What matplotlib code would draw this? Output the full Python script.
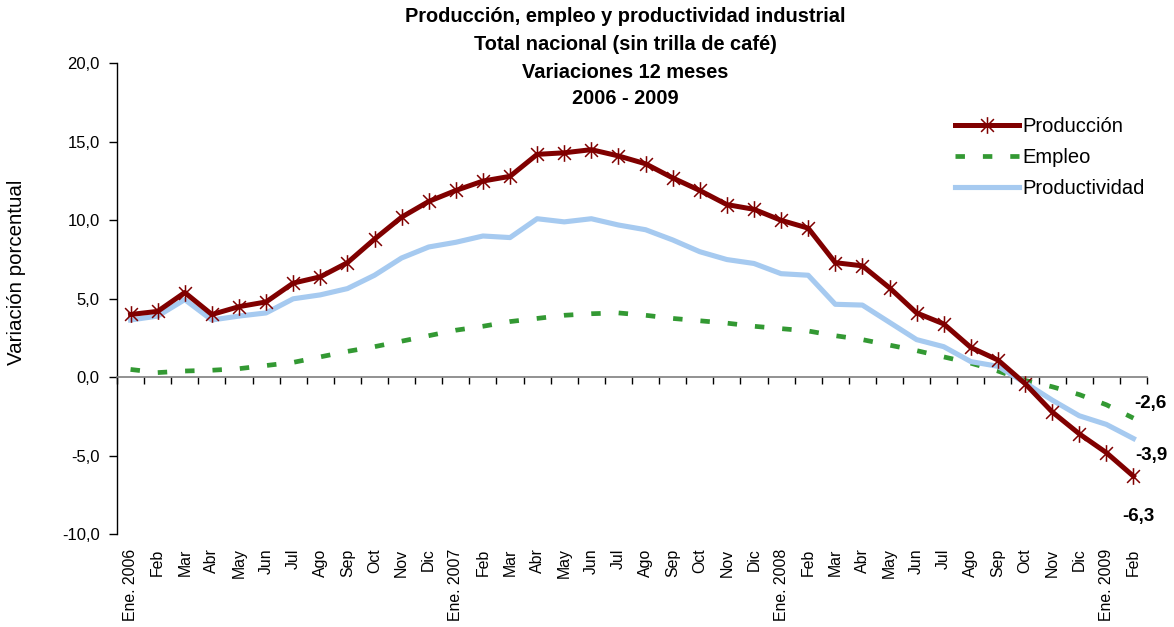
import numpy as np
import matplotlib
matplotlib.use("Agg")
import matplotlib.pyplot as plt
from matplotlib.path import Path
from matplotlib.transforms import blended_transform_factory

plt.rcParams['font.family'] = ['Liberation Sans', 'DejaVu Sans']

# ---------------- data ----------------
months = ["Ene. 2006", "Feb", "Mar", "Abr", "May", "Jun", "Jul", "Ago", "Sep", "Oct", "Nov", "Dic",
          "Ene. 2007", "Feb", "Mar", "Abr", "May", "Jun", "Jul", "Ago", "Sep", "Oct", "Nov", "Dic",
          "Ene. 2008", "Feb", "Mar", "Abr", "May", "Jun", "Jul", "Ago", "Sep", "Oct", "Nov", "Dic",
          "Ene. 2009", "Feb"]

produccion = [4.0, 4.2, 5.4, 4.0, 4.5, 4.8, 6.0, 6.4, 7.3, 8.8, 10.2, 11.2,
              11.9, 12.5, 12.8, 14.2, 14.3, 14.5, 14.1, 13.6, 12.7, 11.9, 11.0, 10.7,
              10.0, 9.5, 7.3, 7.1, 5.7, 4.1, 3.4, 1.9, 1.1, -0.4, -2.2, -3.6,
              -4.8, -6.3]

empleo = [0.5, 0.3, 0.4, 0.45, 0.55, 0.75, 0.95, 1.3, 1.65, 1.95, 2.3, 2.65,
          3.0, 3.25, 3.55, 3.75, 3.95, 4.05, 4.1, 3.95, 3.75, 3.6, 3.45, 3.25,
          3.1, 2.95, 2.65, 2.4, 2.05, 1.7, 1.3, 0.9, 0.4, -0.2, -0.6, -1.1,
          -1.75, -2.6]

productividad = [3.65, 3.9, 4.95, 3.65, 3.9, 4.1, 5.0, 5.25, 5.65, 6.5, 7.6, 8.3,
                 8.6, 9.0, 8.9, 10.1, 9.9, 10.1, 9.7, 9.4, 8.75, 8.0, 7.5, 7.25,
                 6.6, 6.5, 4.65, 4.6, 3.5, 2.4, 1.95, 1.0, 0.7, -0.35, -1.45, -2.45,
                 -3.0, -3.9]

yticks = [-10, -5, 0, 5, 10, 15, 20]
end_labels = ["-2,6", "-3,9", "-6,3"]

title_lines = ["Producción, empleo y productividad industrial",
               "Total nacional (sin trilla de café)",
               "Variaciones 12 meses",
               "2006 - 2009"]

# ---------------- figure ----------------
W, H = 1174, 627
fig = plt.figure(figsize=(W / 100, H / 100), dpi=100)
ax = fig.add_axes([117 / W, 1 - 534.3 / H, (1147 - 117) / W, (534.3 - 63.3) / H])

n = len(months)
x = np.arange(n)

star = Path([(-1, -1), (1, 1), (-1, 1), (1, -1), (0, -1.3), (0, 1.3)],
            [Path.MOVETO, Path.LINETO, Path.MOVETO, Path.LINETO, Path.MOVETO, Path.LINETO])

ax.plot(x, empleo, color='#339933', lw=3.4, dashes=(2.0, 3.8), solid_capstyle='butt',
        dash_capstyle='butt', label='Empleo', zorder=3)
ax.plot(x, productividad, color='#a6caf0', lw=3.7, label='Productividad', zorder=4,
        solid_joinstyle='round')
ax.plot(x, produccion, color='#800000', lw=3.6, marker=star, ms=12, mew=1.1,
        mec='#800000', label='Producción', zorder=5, solid_joinstyle='round')

ax.set_xlim(-0.5, n - 0.5)
ax.set_ylim(-10, 20)
ax.set_yticks(yticks)
ax.set_yticklabels([f"{v:.1f}".replace('.', ',') for v in yticks], fontsize=12)
ax.tick_params(axis='y', direction='out', length=6, width=1, pad=6.5, colors='black')

for s in ['top', 'right']:
    ax.spines[s].set_visible(False)
ax.spines['left'].set_linewidth(1.0)
ax.spines['bottom'].set_position(('data', 0))
ax.spines['bottom'].set_color('#7f7f7f')
ax.spines['bottom'].set_linewidth(1.2)
ax.set_xticks(np.arange(-0.5, n, 1.0))
ax.set_xticklabels([])
ax.tick_params(axis='x', direction='out', length=5, width=1, colors='black')

trans = blended_transform_factory(ax.transData, ax.transAxes)
for i, lab in enumerate(months):
    ax.text(i, -0.03, lab, rotation=90, ha='center', va='top', fontsize=11.4, transform=trans)

# end labels
ax.text(n - 1 + 0.64, -1.7, end_labels[0], fontsize=13.5, fontweight='bold', ha='center', va='center')
ax.text(n - 1 + 0.66, -4.95, end_labels[1], fontsize=13.5, fontweight='bold', ha='center', va='center')
ax.text(n - 1 + 0.18, -8.85, end_labels[2], fontsize=13.5, fontweight='bold', ha='center', va='center')

# legend
h, l = ax.get_legend_handles_labels()
order = [2, 0, 1]
leg = ax.legend([h[k] for k in order], [l[k] for k in order], loc='upper left',
                bbox_to_anchor=(955 / W, 1 - 117 / H), bbox_transform=fig.transFigure,
                frameon=False, fontsize=14.5, handlelength=3.2, handletextpad=0.15,
                labelspacing=0.6, borderpad=0, borderaxespad=0, numpoints=1)

# title
ys = [17, 45, 72, 99]
for t, yy in zip(title_lines, ys):
    fig.text(625 / W, 1 - yy / H, t, ha='center', va='center', fontsize=14.4, fontweight='bold')

fig.text(17 / W, 1 - 272 / H, "Variación porcentual", rotation=90, ha='center', va='center',
         fontsize=14.8)

fig.savefig("out.png", dpi=100)
